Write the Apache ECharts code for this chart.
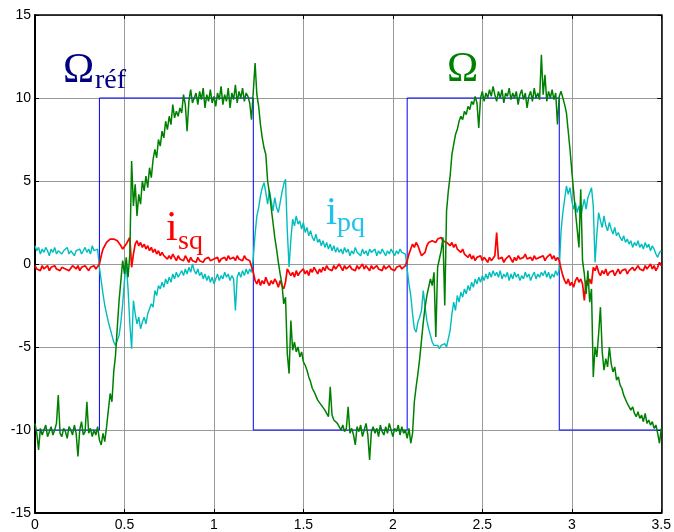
<!DOCTYPE html>
<html><head><meta charset="utf-8">
<script src="https://cdn.jsdelivr.net/npm/echarts@6.0.0/dist/echarts.min.js"></script>
<style>html,body{margin:0;padding:0;background:#fff}#c{width:674px;height:532px}</style>
</head><body><div id="c"></div>
<script>
// sampling step of the traces (s)
const timeStep = 0.01;
// axis ticks
const xTicks = [0, 0.5, 1, 1.5, 2, 2.5, 3, 3.5];
const yTicks = [-15, -10, -5, 0, 5, 10, 15];

// speed reference (step signal)
const refTimes  = [0, 0.36, 0.36, 1.22, 1.22, 2.08, 2.08, 2.93, 2.93, 3.5];
const refValues = [-10, -10, 10, 10, -10, -10, 10, 10, -10, -10];

// measured speed Omega, t = 0 .. 3.50 every 0.01 s
const omega = [
-9.6,-10.2,-11.2,-9.9,-10.3,-10.0,-9.7,-10.4,-10.1,-9.8,
-10.3,-10.0,-9.6,-7.9,-10.2,-10.4,-9.9,-10.1,-10.5,-9.8,
-10.0,-10.3,-9.7,-10.2,-11.6,-10.0,-9.5,-10.3,-10.1,-8.3,
-10.2,-9.9,-10.4,-10.0,-10.3,-9.8,-10.6,-10.9,-10.2,-10.7,
-9.8,-8.8,-7.8,-8.3,-6.5,-5.5,-3.8,-2.2,-1.0,0.2,
-0.6,0.4,-0.8,0.6,6.2,3.5,4.8,2.9,4.2,3.6,
5.0,4.4,5.3,4.6,5.8,5.2,6.3,6.9,6.4,7.5,
7.1,8.0,7.6,8.6,8.1,8.9,8.4,9.6,8.8,9.2,
8.9,9.4,9.1,10.2,9.6,8.0,9.8,10.5,9.7,10.0,
10.3,9.6,10.4,9.9,10.6,9.4,10.2,9.8,10.5,9.7,
10.1,9.5,10.3,9.9,10.7,9.6,10.2,9.8,10.6,9.4,
10.3,9.9,10.8,9.7,10.4,10.0,10.6,9.8,10.3,10.1,
9.7,8.7,10.4,12.1,10.2,9.5,8.4,7.6,7.0,6.6,
5.0,4.3,3.4,2.5,1.6,0.9,0.1,-0.6,-1.2,-2.4,
-2.0,-5.4,-6.6,-3.4,-5.2,-4.7,-5.3,-5.0,-5.6,-5.3,
-5.9,-6.1,-6.4,-6.8,-7.1,-7.5,-7.7,-7.6,-8.2,-8.3,
-8.5,-8.4,-8.8,-9.0,-9.2,-7.4,-9.1,-9.4,-9.3,-9.6,
-9.5,-10.0,-9.7,-10.1,-9.9,-8.6,-10.2,-9.9,-10.3,-10.9,
-9.8,-10.1,-9.7,-10.4,-10.0,-9.6,-10.3,-11.8,-10.1,-9.8,
-10.2,-9.9,-10.4,-9.7,-10.1,-10.3,-9.8,-10.2,-9.6,-10.0,
-10.4,-9.9,-10.1,-9.7,-10.3,-9.8,-10.2,-10.0,-10.5,-9.9,
-10.8,-10.2,-8.3,-7.4,-6.6,-5.7,-4.6,-3.5,-2.6,-1.9,
-1.4,-0.9,-1.3,-0.5,-4.4,-0.2,0.3,0.8,1.6,-2.5,
3.2,4.4,5.3,6.6,7.2,7.8,8.1,8.6,8.9,8.7,
9.2,9.0,9.5,9.3,9.8,9.6,10.1,9.7,8.2,10.0,
10.4,9.8,10.3,10.0,10.5,10.1,10.7,10.2,9.8,10.4,
10.0,10.5,9.7,10.3,10.1,10.6,9.9,10.3,10.0,10.4,
9.6,10.2,10.5,9.9,10.3,9.4,10.1,10.4,9.8,10.6,
10.0,10.3,9.9,12.6,10.2,11.4,9.8,10.4,10.0,10.5,
9.9,10.3,8.4,10.1,10.4,10.0,9.6,9.1,8.0,6.9,
5.6,4.4,3.2,2.1,1.0,4.5,0.2,-0.6,-1.8,-0.4,
-2.3,-1.5,-6.8,-5.0,-5.6,-4.2,-2.6,-5.3,-6.4,-5.7,
-6.2,-5.0,-6.0,-6.5,-6.2,-7.0,-6.8,-7.3,-7.5,-7.9,
-8.0,-8.4,-8.5,-8.8,-8.6,-9.0,-9.2,-8.9,-9.3,-9.1,
-9.5,-9.0,-9.6,-9.4,-9.7,-9.5,-9.9,-9.7,-10.2,-10.8,
-9.9
];

// current i_pq, t = 0 .. 3.50 every 0.01 s
const ipq = [
1.1,0.8,1.0,0.6,0.9,0.7,1.0,0.8,0.5,0.9,
0.7,1.0,0.6,0.8,0.9,0.6,0.8,0.7,1.0,0.6,
0.8,0.9,0.5,0.8,0.7,0.9,0.6,0.8,1.0,0.7,
0.9,0.6,1.1,0.8,0.7,0.9,-0.2,-1.0,-1.8,-2.5,
-3.0,-3.5,-3.9,-4.3,-4.7,-4.9,-4.8,-4.3,-3.5,-2.4,
-1.0,0.0,-1.5,-3.6,-5.1,-2.2,-3.0,-3.6,-3.2,-3.9,
-3.5,-3.2,-3.6,-3.0,-2.7,-2.4,-2.6,-1.6,-1.9,-1.3,
-1.5,-1.1,-1.4,-0.9,-1.2,-0.8,-1.1,-0.6,-0.9,-0.5,
-0.8,-0.6,-0.4,-0.7,-0.3,-0.6,-0.2,-0.5,0.0,-0.4,
-0.6,-0.3,-0.7,-0.5,-0.9,-0.6,-1.0,-0.7,-1.1,-0.8,
-1.2,-0.9,-0.6,-1.0,-0.7,-0.9,-0.5,-0.8,-0.6,-1.0,
-0.7,-0.9,-2.8,-0.8,-0.5,-0.8,-0.4,-0.7,-0.3,-0.6,
-0.3,-0.5,0.4,1.8,2.9,3.4,4.1,4.6,4.9,4.3,
3.6,4.4,3.8,3.2,4.0,3.4,3.1,3.7,4.3,4.8,
5.1,2.0,-0.2,1.5,2.7,2.3,2.9,2.4,2.6,2.1,
2.5,1.9,2.2,1.7,2.0,1.6,1.4,1.8,1.3,1.5,
1.1,1.4,1.0,1.3,0.9,1.2,0.8,1.1,0.7,1.0,
0.7,0.9,0.6,1.0,0.7,0.9,0.5,0.8,0.6,1.0,
0.7,0.8,0.5,0.9,0.6,0.8,0.5,0.9,0.7,0.6,
0.9,0.5,0.8,0.6,0.9,0.7,0.5,0.8,0.6,0.9,
0.7,0.5,0.8,0.6,0.9,0.7,0.8,0.6,-0.3,-1.2,
-1.9,-3.0,-3.9,-4.1,-3.5,-3.2,-2.8,-1.6,-2.6,-3.4,
-3.9,-4.3,-4.7,-4.9,-5.0,-4.9,-5.1,-4.9,-5.0,-4.8,
-5.0,-4.9,-4.0,-3.0,-2.3,-2.8,-1.9,-2.3,-1.7,-2.0,
-1.5,-1.8,-1.3,-1.6,-1.1,-1.4,-0.9,-1.2,-0.8,-1.1,
-0.7,-1.0,-0.6,-0.9,-0.5,-0.8,-0.4,-0.7,-0.5,-0.8,
-0.4,-0.9,-0.6,-0.8,-0.5,-1.0,-0.6,-0.9,-0.5,-0.8,
-0.6,-1.0,-0.7,-0.9,-0.5,-0.8,-0.6,-1.0,-0.7,-0.5,
-0.9,-0.6,-0.8,-0.5,-0.7,-0.4,-0.8,-0.5,-0.9,-0.6,
-0.8,-0.4,-0.7,-0.3,2.0,3.1,3.9,4.7,4.2,4.6,
3.8,3.3,3.7,3.1,3.5,2.8,3.4,3.9,3.3,4.0,
4.3,4.6,3.5,0.1,1.8,3.1,2.6,2.2,2.9,2.3,
2.0,2.5,2.1,1.8,2.2,1.7,1.9,1.6,1.4,1.7,
1.3,1.5,1.2,1.4,1.0,1.3,1.1,1.4,1.0,1.2,
0.9,1.3,1.0,1.2,0.8,1.1,0.9,0.6,0.4,0.7,
0.8
];

// current i_sq, t = 0 .. 3.50 every 0.01 s
const isq = [
-0.1,-0.3,-0.2,-0.4,-0.1,-0.3,-0.2,-0.1,-0.4,-0.2,
-0.3,-0.1,-0.3,-0.2,-0.4,-0.2,-0.1,-0.3,-0.2,-0.4,
-0.3,-0.1,-0.2,-0.3,-0.1,-0.4,-0.2,-0.3,-0.1,-0.2,
-0.4,-0.2,-0.3,-0.1,-0.3,-0.2,0.0,0.5,0.9,1.1,
1.3,1.4,1.5,1.6,1.5,1.6,1.4,1.3,1.1,0.9,
1.0,1.2,1.4,1.6,-0.2,0.6,1.2,1.4,1.1,1.3,
1.0,1.2,0.9,1.1,0.8,1.0,0.7,0.9,0.6,0.8,
0.5,0.7,0.5,0.6,0.3,0.5,0.3,0.6,0.4,0.2,
0.5,0.3,0.4,0.2,0.5,0.3,0.1,0.4,0.2,0.3,
0.1,0.4,0.2,0.3,0.1,0.3,0.2,0.4,0.2,0.1,
0.3,0.2,0.4,0.1,0.3,0.2,0.4,0.2,0.5,0.3,
0.2,0.4,0.2,0.5,0.3,0.4,0.2,0.5,0.3,0.4,
0.2,0.3,-0.5,-1.0,-1.2,-0.9,-1.3,-1.0,-1.2,-0.8,
-1.1,-1.3,-1.0,-1.2,-0.9,-1.1,-1.4,-1.0,-1.3,-1.5,
-1.1,-0.3,-0.2,-0.7,-0.5,-0.8,-0.4,-0.7,-0.5,-0.6,
-0.3,-0.6,-0.4,-0.7,-0.3,-0.5,-0.2,-0.4,-0.6,-0.3,
-0.5,-0.2,-0.4,-0.1,-0.3,-0.2,-0.4,-0.1,-0.3,-0.2,
0.0,-0.2,-0.4,-0.1,-0.3,-0.2,-0.1,-0.3,-0.2,-0.4,
-0.1,-0.3,-0.2,0.0,-0.3,-0.1,-0.2,-0.4,-0.1,-0.3,
-0.2,-0.1,-0.3,-0.2,-0.4,-0.1,-0.3,-0.2,-0.1,-0.3,
-0.2,-0.4,-0.2,-0.3,-0.1,-0.3,-0.2,-0.1,0.2,0.6,
0.9,1.2,1.0,1.3,1.1,0.8,0.5,0.4,0.7,1.1,
1.3,1.2,1.4,1.5,1.3,1.5,1.4,1.6,1.4,1.5,
1.3,1.4,1.1,1.3,1.0,1.2,0.9,1.0,0.7,0.9,
0.6,0.7,0.4,0.6,0.3,0.5,0.2,0.4,0.3,0.5,
0.2,0.4,0.3,0.1,0.4,0.2,0.3,0.5,1.9,0.3,
0.2,0.4,0.1,0.3,0.2,0.5,0.3,0.1,0.4,0.2,
0.5,0.3,0.2,0.4,0.6,0.3,0.2,0.4,0.2,0.5,
0.3,0.2,0.4,0.3,0.5,0.2,0.4,0.3,0.6,0.3,
0.5,0.2,0.4,0.2,-0.3,-0.7,-1.0,-1.2,-0.9,-1.3,
-1.1,-1.4,-1.0,-0.8,-1.1,-0.9,-1.2,-2.2,-1.0,-1.3,
-0.9,-1.2,-0.2,-0.4,-0.1,-0.5,-0.7,-0.4,-0.6,-0.3,
-0.7,-0.5,-0.6,-0.4,-0.7,-0.5,-0.3,-0.6,-0.4,-0.5,
-0.3,-0.6,-0.4,-0.5,-0.2,-0.4,-0.3,-0.1,-0.3,-0.2,
-0.4,-0.1,-0.3,-0.2,0.0,-0.3,-0.1,-0.4,-0.2,0.1,
-0.1
];

function toPairs(vals) {
  return vals.map((v, i) => [Math.round(i * timeStep * 100) / 100, v]);
}
const refPairs = refTimes.map((t, i) => [t, refValues[i]]);

const axisFont = { color: '#000', fontSize: 14, fontFamily: '"Liberation Sans", Arial, sans-serif' };
const gridLine = { show: true, lineStyle: { color: '#999999', width: 1 } };
const tick = { show: true, inside: true, length: 4, lineStyle: { color: '#000', width: 1 } };

const chart = echarts.init(document.getElementById('c'), null, { renderer: 'canvas' });
chart.setOption({
  animation: false,
  backgroundColor: '#fff',
  grid: { left: 35, right: 9, top: 15, bottom: 19 },
  xAxis: [
    { type: 'value', min: xTicks[0], max: xTicks[xTicks.length - 1], interval: 0.5, position: 'bottom',
      axisLine: { onZero: false, lineStyle: { color: '#000', width: 2 } },
      axisTick: tick, axisLabel: Object.assign({ margin: 5 }, axisFont), splitLine: gridLine },
    { type: 'value', min: xTicks[0], max: xTicks[xTicks.length - 1], interval: 0.5, position: 'top',
      axisLine: { onZero: false, lineStyle: { color: '#000', width: 1.5 } },
      axisTick: tick, axisLabel: { show: false }, splitLine: { show: false } }
  ],
  yAxis: [
    { type: 'value', min: yTicks[0], max: yTicks[yTicks.length - 1], interval: 5, position: 'left',
      axisLine: { onZero: false, lineStyle: { color: '#000', width: 2 } },
      axisTick: tick, axisLabel: Object.assign({ margin: 4 }, axisFont), splitLine: gridLine },
    { type: 'value', min: yTicks[0], max: yTicks[yTicks.length - 1], interval: 5, position: 'right',
      axisLine: { onZero: false, lineStyle: { color: '#000', width: 1.5 } },
      axisTick: tick, axisLabel: { show: false }, splitLine: { show: false } }
  ],
  series: [
    { name: 'ref', type: 'line', data: refPairs, showSymbol: false, symbol: 'none',
      lineStyle: { color: '#0000ff', width: 1 }, z: 2 },
    { name: 'ipq', type: 'line', data: toPairs(ipq), showSymbol: false, symbol: 'none',
      lineStyle: { color: '#00bdbd', width: 1.4 }, z: 3 },
    { name: 'isq', type: 'line', data: toPairs(isq), showSymbol: false, symbol: 'none',
      lineStyle: { color: '#ff0000', width: 1.7 }, z: 4 },
    { name: 'omega', type: 'line', data: toPairs(omega), showSymbol: false, symbol: 'none',
      lineStyle: { color: '#008000', width: 1.5 }, z: 5 }
  ],
  graphic: [
    { type: 'text', z: 100, style: { text: 'Ω', x: 63, y: 71, fill: '#000080', font: '42px "Liberation Serif", "Times New Roman", serif', verticalAlign: 'middle' } },
    { type: 'text', z: 100, style: { text: 'réf', x: 95, y: 81, fill: '#000080', font: '28px "Liberation Serif", "Times New Roman", serif', verticalAlign: 'middle' } },
    { type: 'text', z: 100, style: { text: 'Ω', x: 447, y: 70, fill: '#008000', font: '42px "Liberation Serif", "Times New Roman", serif', verticalAlign: 'middle' } },
    { type: 'text', z: 100, style: { text: 'i', x: 166, y: 229, fill: '#ff0000', font: '42px "Liberation Serif", "Times New Roman", serif', verticalAlign: 'middle' } },
    { type: 'text', z: 100, style: { text: 'sq', x: 178, y: 242, fill: '#ff0000', font: '28px "Liberation Serif", "Times New Roman", serif', verticalAlign: 'middle' } },
    { type: 'text', z: 100, style: { text: 'i', x: 326, y: 213, fill: '#1fc2e8', font: '40px "Liberation Serif", "Times New Roman", serif', verticalAlign: 'middle' } },
    { type: 'text', z: 100, style: { text: 'pq', x: 337, y: 224, fill: '#1fc2e8', font: '28px "Liberation Serif", "Times New Roman", serif', verticalAlign: 'middle' } }
  ]
});
</script>
</body></html>
